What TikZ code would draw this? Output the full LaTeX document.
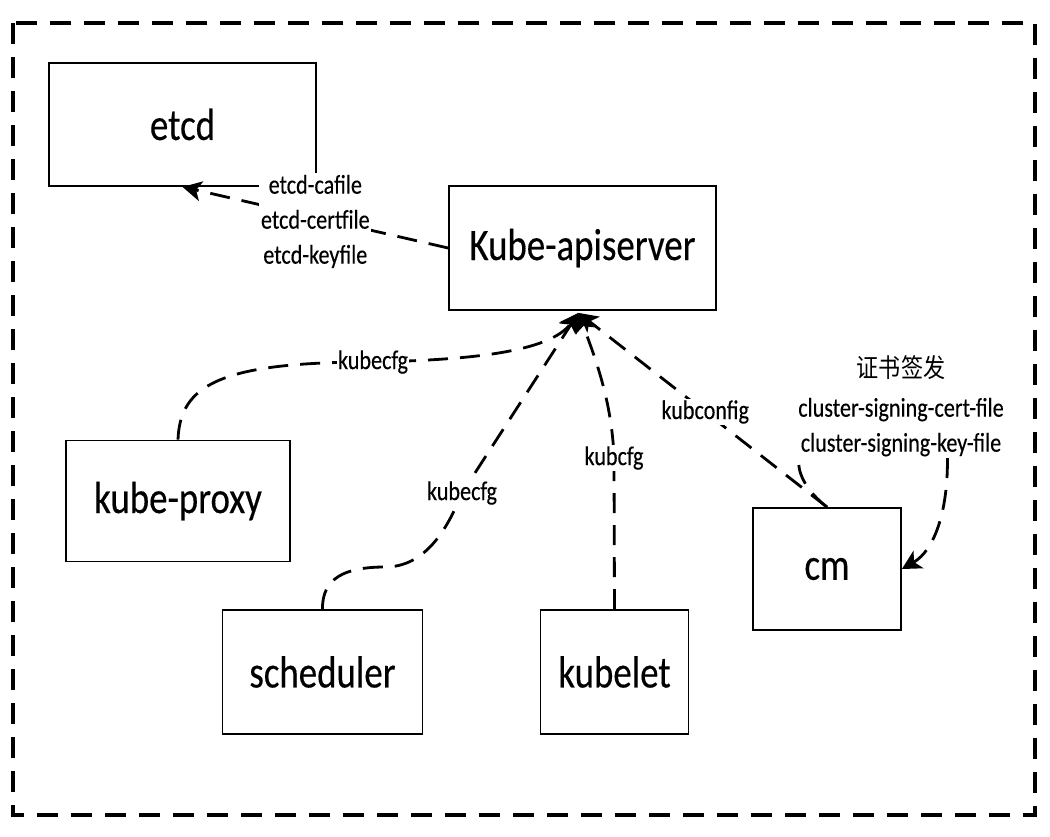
\documentclass[tikz,border=0pt]{standalone}
\usepackage{fontspec}
\setmainfont{Carlito}[FakeStretch=0.82,FakeBold=0.3]
\newfontfamily\cjk{Noto Sans CJK SC}[FakeStretch=0.85]
\usetikzlibrary{arrows.meta}
\begin{document}
\begin{tikzpicture}[x=1pt,y=-1pt,
  box/.style={draw, line width=1.8pt, inner sep=0pt, font=\fontsize{45}{54}\selectfont},
  frame/.style={line width=3.5pt, dash pattern=on 21pt off 13pt},
  conn/.style={line width=2.8pt, dash pattern=on 20pt off 12pt},
  arr/.style={-{Stealth[length=19pt,width=20pt,inset=5pt]}},
  lbl/.style={fill=white, inner sep=1.5pt, align=center, font=\fontsize{27}{35}\selectfont}]
\useasboundingbox (0,0) rectangle (1050,836);
\draw[frame] (13,23) rectangle (1035,815);
% boxes
\node[box, minimum width=267pt, minimum height=123pt] (etcd) at (182.5,124.5) {etcd};
\node[box, minimum width=267pt, minimum height=124pt] (api) at (582.5,248) {Kube-apiserver};
\node[box, minimum width=224pt, minimum height=121pt] (proxy) at (178,501) {kube-proxy};
\node[box, minimum width=200pt, minimum height=124pt] (sched) at (322.5,672) {scheduler};
\node[box, minimum width=148pt, minimum height=124pt] (kubelet) at (614.5,672) {kubelet};
\node[box, minimum width=148pt, minimum height=122pt] (cm) at (827,569) {cm};
\coordinate (hub) at ([xshift=-4pt,yshift=-2pt]api.south);
% connectors
\draw[conn,arr] (api.west) -- (etcd.south)
  node[lbl, midway, yshift=-4pt] {etcd-cafile\\etcd-certfile\\etcd-keyfile};
\draw[conn,arr] (proxy.north) .. controls (180,385) and (220,362) .. (373,362)
  node[lbl] {kubecfg} .. controls (470,360) and (550,352) .. (hub);
\draw[conn,arr] (sched.north) .. controls (322,578) and (345,567) .. (385,567)
  .. controls (425,567) and (447,530) .. (462,493) node[lbl] {kubecfg} -- (hub);
\draw[conn,arr] (kubelet.north) -- (614,458) node[lbl] {kubcfg}
  .. controls (612,400) and (594,355) .. (hub);
\draw[conn,arr] (cm.north) -- (hub) node[lbl, pos=0.49] {kubconfig};
% certificate signing loop
\node[lbl, anchor=north] (sign) at (901,354)
  {{\cjk\fontsize{26}{30}\selectfont 证书签发}\\[4pt]cluster-signing-cert-file\\cluster-signing-key-file};
\draw[conn] (cm.north) .. controls (805,490) and (796,470) .. ([xshift=3pt]sign.south west);
\draw[conn,arr] ([xshift=-58pt]sign.south east) .. controls (948,510) and (935,550) .. (cm.east);
\end{tikzpicture}
\end{document}
